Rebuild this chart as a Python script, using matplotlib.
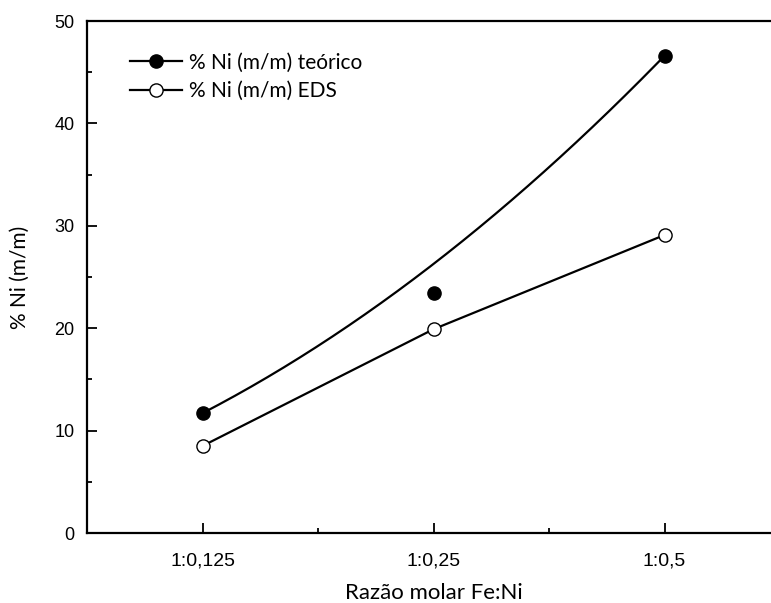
import numpy as np
import matplotlib
matplotlib.use("Agg")
import matplotlib.pyplot as plt
from matplotlib.ticker import MultipleLocator

# data
categories = ["1:0,125", "1:0,25", "1:0,5"]
ni_teorico = [11.7, 23.4, 46.6]
ni_eds = [8.5, 19.9, 29.1]

x = np.arange(1, len(categories) + 1)


def bspline(xp, yp, n=200):
    # quadratic B-spline (bezier) through the end points, like Origin's B-spline connect
    t = np.linspace(0, 1, n)
    xp = np.asarray(xp, float)
    yp = np.asarray(yp, float)
    bx = (1 - t) ** 2 * xp[0] + 2 * t * (1 - t) * xp[1] + t ** 2 * xp[2]
    by = (1 - t) ** 2 * yp[0] + 2 * t * (1 - t) * yp[1] + t ** 2 * yp[2]
    return bx, by


fig = plt.figure(figsize=(7.71, 6.03), dpi=100)
ax = fig.add_axes([87 / 771, 70 / 603, 693 / 771, 512 / 603])

tick_font = ["Liberation Sans Narrow", "Liberation Sans", "DejaVu Sans"]
label_font = ["Lato", "DejaVu Sans"]

# teórico: smooth curve + filled markers
cx, cy = bspline(x, ni_teorico)
ax.plot(cx, cy, color="black", lw=1.6, zorder=2)
ax.plot(x, ni_teorico, "o", color="black", ms=9.5, zorder=3)

# EDS: straight segments + open markers
ax.plot(x, ni_eds, color="black", lw=1.6, zorder=2)
ax.plot(x, ni_eds, "o", mfc="white", mec="black", mew=1.0, ms=9.5, zorder=3)

# legend handles
h1, = ax.plot([], [], "-o", color="black", lw=1.6, ms=9.5)
h2, = ax.plot([], [], "-o", color="black", lw=1.6, ms=9.5, mfc="white", mew=1.0)
ax.legend([h1, h2], ["% Ni (m/m) teórico", "% Ni (m/m) EDS"],
          loc="upper left", bbox_to_anchor=(0.035, 0.975), frameon=False,
          handlelength=2.5, handletextpad=0.35, labelspacing=0.4,
          prop={"family": label_font, "size": 15})

ax.set_xlim(0.5, 3.5)
ax.set_ylim(0, 50)
ax.set_xticks(x)
ax.set_xticklabels(categories, family=tick_font, fontsize=14)
ax.xaxis.set_minor_locator(MultipleLocator(0.5))
ax.yaxis.set_major_locator(MultipleLocator(10))
ax.yaxis.set_minor_locator(MultipleLocator(5))
for lab in ax.get_yticklabels():
    lab.set_family(tick_font[1:])
    lab.set_fontsize(13)

ax.tick_params(which="both", direction="in", width=1.3, top=False, right=False)
ax.tick_params(which="major", length=7)
ax.tick_params(axis="x", which="major", pad=14)
ax.tick_params(axis="y", which="major", pad=9)
ax.tick_params(which="minor", length=3.5)

for s in ax.spines.values():
    s.set_linewidth(1.6)

ax.set_xlabel("Razão molar Fe:Ni", family=label_font, fontsize=16, labelpad=10)
ax.set_ylabel("% Ni (m/m)", family=label_font, fontsize=15, labelpad=18)

fig.savefig("out.png", dpi=100)
